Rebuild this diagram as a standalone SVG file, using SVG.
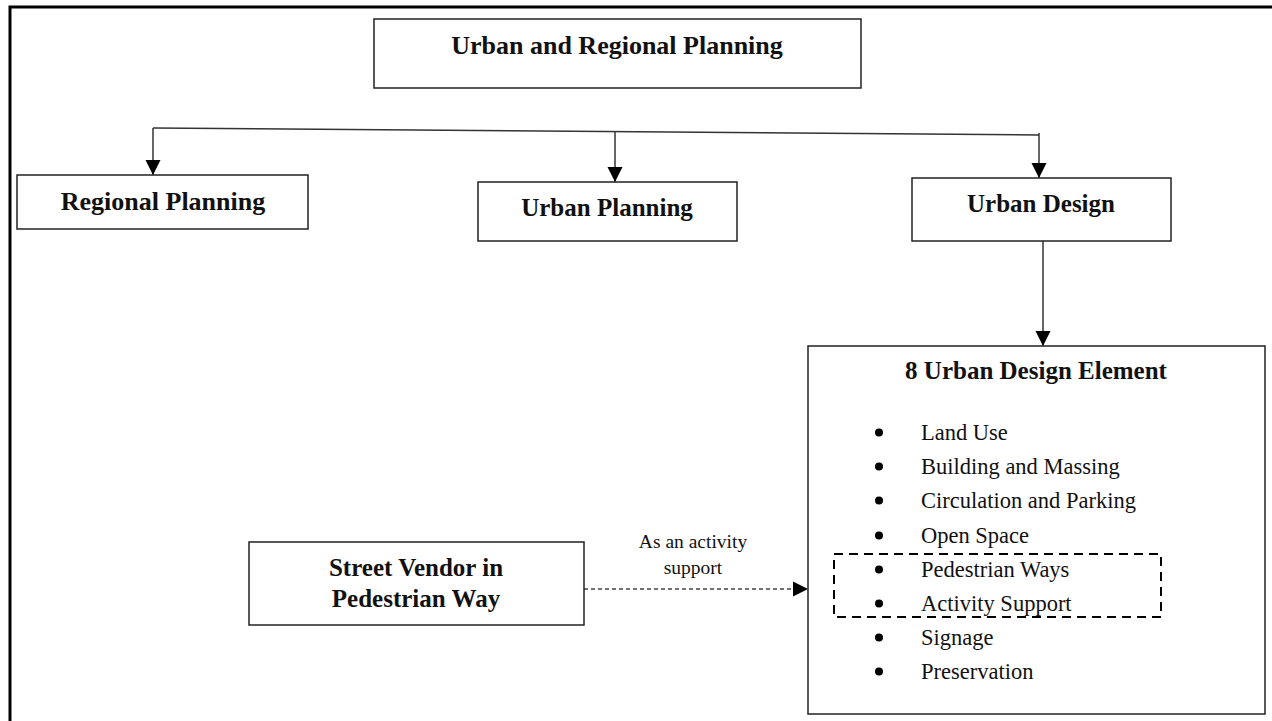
<svg xmlns="http://www.w3.org/2000/svg" width="1272" height="721" viewBox="0 0 1272 721">
<style>
.box{fill:#fff;stroke:#222;stroke-width:1.5}
.b{font-family:"Liberation Serif",serif;font-weight:bold;font-size:25px;fill:#111;text-anchor:middle}
.r{font-family:"Liberation Serif",serif;font-size:22.5px;fill:#111}
.lbl{font-family:"Liberation Serif",serif;font-size:19.5px;fill:#111;text-anchor:middle}
.ln{fill:none;stroke:#333;stroke-width:1.5}
.dash{fill:none;stroke:#444;stroke-width:1.3;stroke-dasharray:4 3}
.dot{fill:#000}
</style>
<defs>
<marker id="arr" markerUnits="userSpaceOnUse" markerWidth="16" markerHeight="16" viewBox="0 0 16 16" refX="15" refY="8" orient="auto">
<path d="M0,0.5 L15,8 L0,15.5 Z" fill="#000"/>
</marker>
</defs>
<rect width="1272" height="721" fill="#fff"/>
<path d="M10,721 V7 H1272" fill="none" stroke="#000" stroke-width="3"/>
<g id="connectors">
<path class="ln" d="M153,128 L1039,135"/>
<path class="ln" d="M153,128 V175" marker-end="url(#arr)"/>
<path class="ln" d="M615,132 V182" marker-end="url(#arr)"/>
<path class="ln" d="M1039,133 V178" marker-end="url(#arr)"/>
<path class="ln" d="M1043,241 V346" marker-end="url(#arr)"/>
<path class="dash" d="M584,589 L808,589" marker-end="url(#arr)"/>
<text class="lbl" x="693" y="548">As an activity</text>
<text class="lbl" x="693" y="574">support</text>
</g>
<g id="urban-regional-planning">
<rect class="box" x="374" y="19" width="487" height="69"/>
<text class="b" x="617" y="54" style="font-size:26px">Urban and Regional Planning</text>
</g>
<g id="regional-planning">
<rect class="box" x="17" y="175" width="291" height="54"/>
<text class="b" x="163" y="210" style="font-size:26px">Regional Planning</text>
</g>
<g id="urban-planning">
<rect class="box" x="478" y="182" width="259" height="59"/>
<text class="b" x="607" y="216">Urban Planning</text>
</g>
<g id="urban-design">
<rect class="box" x="912" y="178" width="259" height="63"/>
<text class="b" x="1041" y="212">Urban Design</text>
</g>
<g id="urban-design-element">
<rect class="box" x="808" y="346" width="457" height="368"/>
<text class="b" x="1036" y="379">8 Urban Design Element</text>
<circle class="dot" cx="879" cy="432.5" r="4"/><text class="r" x="921" y="440">Land Use</text>
<circle class="dot" cx="879" cy="466.5" r="4"/><text class="r" x="921" y="474">Building and Massing</text>
<circle class="dot" cx="879" cy="500.5" r="4"/><text class="r" x="921" y="508">Circulation and Parking</text>
<circle class="dot" cx="879" cy="535.5" r="4"/><text class="r" x="921" y="543">Open Space</text>
<circle class="dot" cx="879" cy="569.5" r="4"/><text class="r" x="921" y="577">Pedestrian Ways</text>
<circle class="dot" cx="879" cy="603.5" r="4"/><text class="r" x="921" y="611">Activity Support</text>
<circle class="dot" cx="879" cy="637.5" r="4"/><text class="r" x="921" y="645">Signage</text>
<circle class="dot" cx="879" cy="671.5" r="4"/><text class="r" x="921" y="679">Preservation</text>
<rect x="834" y="554" width="327" height="63" fill="none" stroke="#000" stroke-width="2" stroke-dasharray="9 6"/>
</g>
<g id="street-vendor">
<rect class="box" x="249" y="542" width="335" height="83"/>
<text class="b" x="416" y="576">Street Vendor in</text>
<text class="b" x="416" y="607">Pedestrian Way</text>
</g>
</svg>
